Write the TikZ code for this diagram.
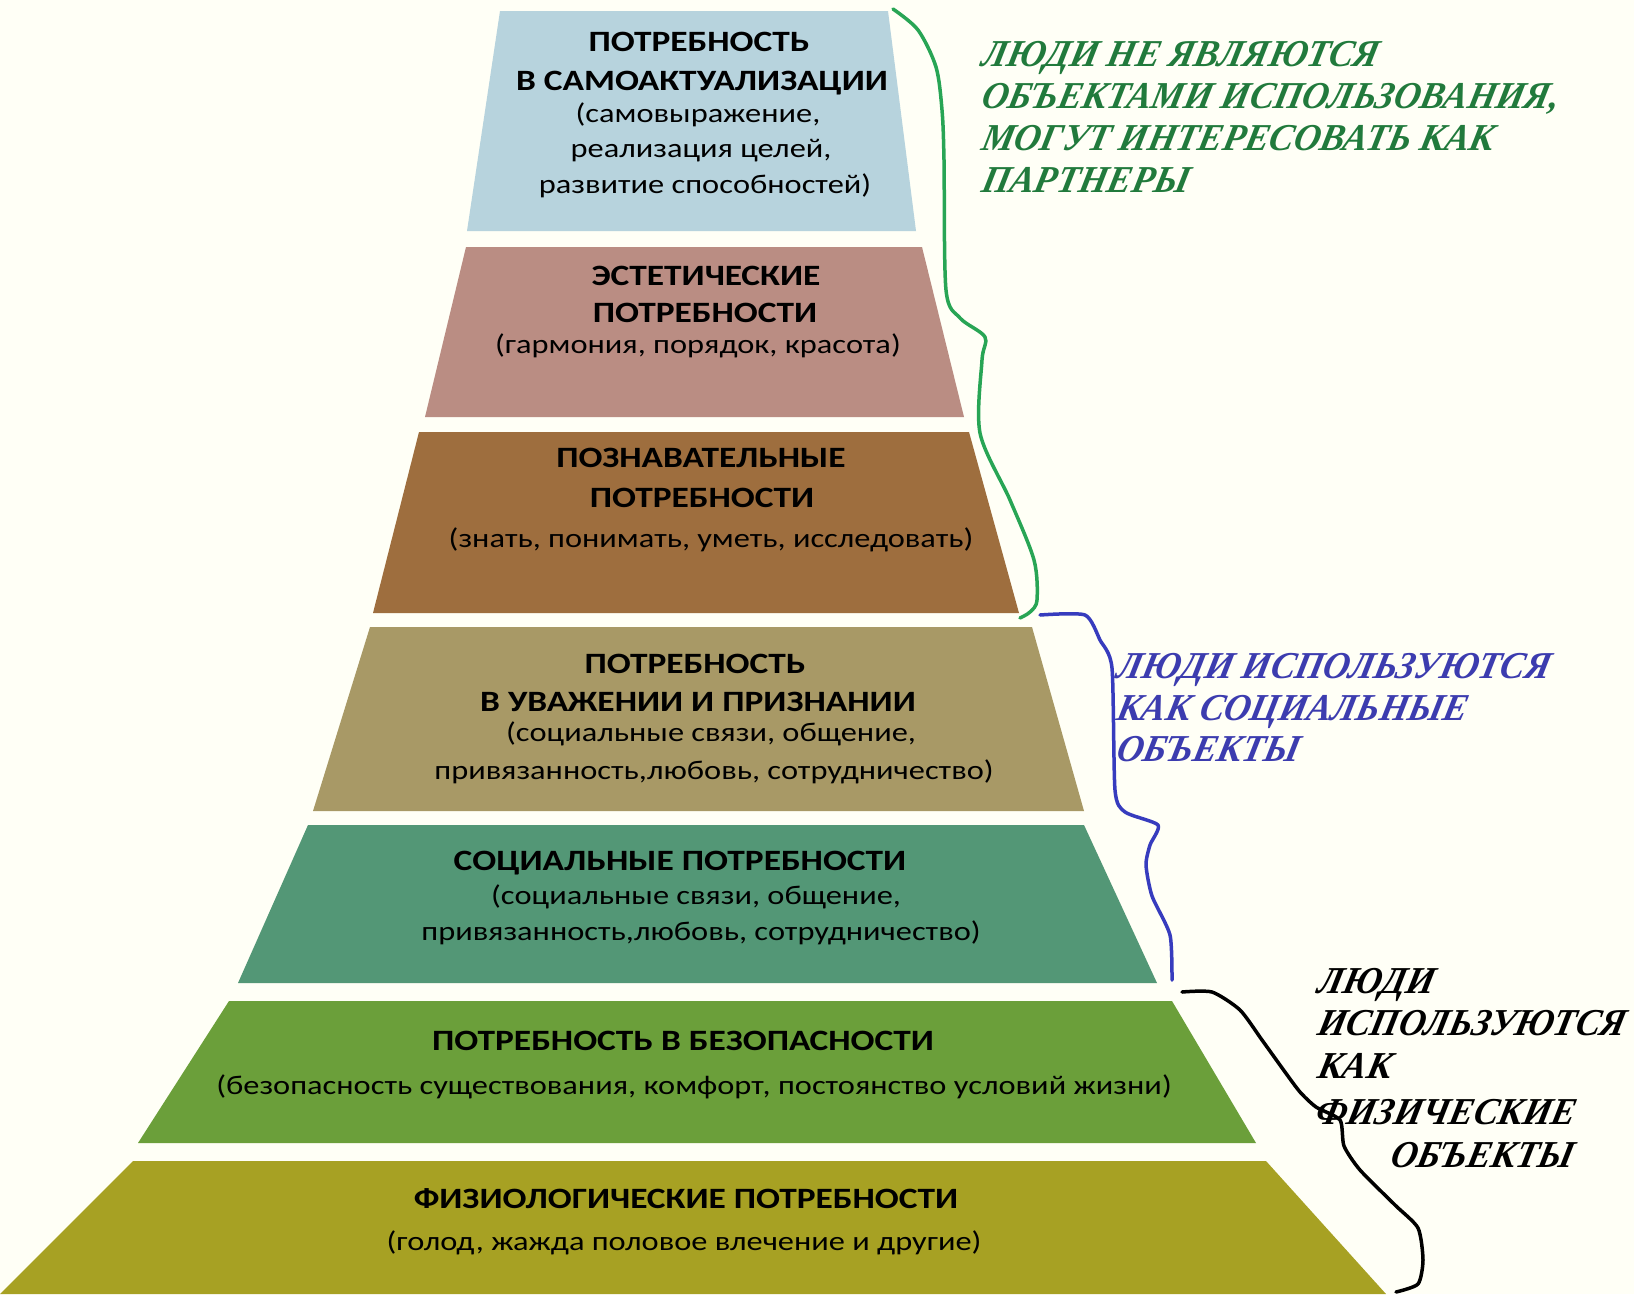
\documentclass[tikz,border=0pt]{standalone}
\usepackage{fontspec}
\setmainfont[FakeStretch=1.2]{Carlito}
\newfontfamily\serifbi[FakeSlant=0.22,FakeStretch=0.96]{Liberation Serif Bold Italic}
\definecolor{bgc}{RGB}{255,255,246}
\definecolor{c1}{RGB}{183,211,221}
\definecolor{c2}{RGB}{186,141,131}
\definecolor{c3}{RGB}{158,110,62}
\definecolor{c4}{RGB}{168,153,102}
\definecolor{c5}{RGB}{83,151,118}
\definecolor{c6}{RGB}{107,159,58}
\definecolor{c7}{RGB}{167,161,35}
\definecolor{gtxt}{RGB}{33,122,60}
\definecolor{glin}{RGB}{40,165,85}
\definecolor{btxt}{RGB}{60,60,175}
\definecolor{blin}{RGB}{55,60,190}
\begin{document}
\begin{tikzpicture}[x=1pt,y=-1pt,
  ttl/.style={anchor=base, inner sep=0pt, font=\bfseries\fontsize{29.5}{30}\selectfont},
  sub/.style={anchor=base, inner sep=0pt, font=\fontsize{27}{28}\selectfont},
  side/.style={anchor=base west, inner sep=0pt, font=\serifbi\fontsize{38}{38}\selectfont},
  brace/.style={line width=3.5pt, line join=round, line cap=round}]
\useasboundingbox (0,0) rectangle (1634,1294);
\fill[bgc] (0,0) rectangle (1634,1294);
\clip (0,0) rectangle (1634,1294);
% tiers
\fill[c1] (500,11) -- (888,11) -- (916,231) -- (467,231) -- cycle;
\fill[c2] (466,247) -- (922,247) -- (964,417) -- (425,417) -- cycle;
\fill[c3] (419,432) -- (969,432) -- (1019,613) -- (373,613) -- cycle;
\fill[c4] (370,627) -- (1032,627) -- (1084,811) -- (313,811) -- cycle;
\fill[c5] (308,825) -- (1084,825) -- (1157,983) -- (238,983) -- cycle;
\fill[c6] (229,1001) -- (1172,1001) -- (1256,1143) -- (138,1143) -- cycle;
\fill[c7] (133,1161) -- (1266,1161) -- (1386,1294) -- (0,1294) -- cycle;
% tier texts
\node[ttl] (t1a) at (699,51) {ПОТРЕБНОСТЬ};
\node[ttl] (t1b) at (702,90) {В САМОАКТУАЛИЗАЦИИ};
\node[sub] (t1c) at (698,122) {(самовыражение,};
\node[sub] (t1d) at (701,157) {реализация целей,};
\node[sub] (t1e) at (705,193) {развитие способностей)};
\node[ttl] (t2a) at (706,285) {ЭСТЕТИЧЕСКИЕ};
\node[ttl] (t2b) at (705,322) {ПОТРЕБНОСТИ};
\node[sub] (t2c) at (698,353) {(гармония, порядок, красота)};
\node[ttl] (t3a) at (701,467) {ПОЗНАВАТЕЛЬНЫЕ};
\node[ttl] (t3b) at (702,507) {ПОТРЕБНОСТИ};
\node[sub] (t3c) at (711,547) {(знать, понимать, уметь, исследовать)};
\node[ttl] (t4a) at (695,673) {ПОТРЕБНОСТЬ};
\node[ttl] (t4b) at (698,711) {В УВАЖЕНИИ И ПРИЗНАНИИ};
\node[sub] (t4c) at (711,741) {(социальные связи, общение,};
\node[sub] (t4d) at (714,779) {привязанность,любовь, сотрудничество)};
\node[ttl] (t5a) at (680,870) {СОЦИАЛЬНЫЕ ПОТРЕБНОСТИ};
\node[sub] (t5b) at (696,904) {(социальные связи, общение,};
\node[sub] (t5c) at (701,940) {привязанность,любовь, сотрудничество)};
\node[ttl] (t6a) at (683,1050) {ПОТРЕБНОСТЬ В БЕЗОПАСНОСТИ};
\node[sub] (t6b) at (694,1094) {(безопасность существования, комфорт, постоянство условий жизни)};
\node[ttl] (t7a) at (686,1208) {ФИЗИОЛОГИЧЕСКИЕ ПОТРЕБНОСТИ};
\node[sub] (t7b) at (684,1250) {(голод, жажда половое влечение и другие)};
% braces
\draw[brace, glin] plot[smooth, tension=0.5] coordinates {(893,9) (918,30) (936,67) (942,110) (944,160) (946,290) (960,318) (985,337) (982,360) (980,433) (1010,500) (1034,560) (1037,600) (1030,612) (1020,618)};
\draw[brace, blin] plot[smooth, tension=0.4] coordinates {(1040,615) (1085,615) (1100,640) (1112,668) (1115,790) (1125,812) (1158,825) (1150,845) (1146,865) (1152,896) (1170,935) (1172,980)};
\draw[brace, black] plot[smooth, tension=0.4] coordinates {(1182,992) (1212,992) (1240,1010) (1262,1040) (1285,1072) (1300,1092) (1316,1107) (1340,1120) (1344,1146) (1360,1170) (1395,1205) (1418,1228) (1423,1260) (1418,1284) (1396,1292)};
% side texts
\node[side, gtxt] (g1) at (980,66) {ЛЮДИ НЕ ЯВЛЯЮТСЯ};
\node[side, gtxt] (g2) at (980,108) {ОБЪЕКТАМИ ИСПОЛЬЗОВАНИЯ,};
\node[side, gtxt] (g3) at (980,150) {МОГУТ ИНТЕРЕСОВАТЬ КАК};
\node[side, gtxt] (g4) at (980,192) {ПАРТНЕРЫ};
\node[side, btxt] (b1) at (1115,678) {ЛЮДИ ИСПОЛЬЗУЮТСЯ};
\node[side, btxt] (b2) at (1115,720) {КАК СОЦИАЛЬНЫЕ};
\node[side, btxt] (b3) at (1115,761) {ОБЪЕКТЫ};
\node[side] (k1) at (1316,993) {ЛЮДИ};
\node[side] (k2) at (1316,1035) {ИСПОЛЬЗУЮТСЯ};
\node[side] (k3) at (1316,1078) {КАК};
\node[side] (k4) at (1314,1124) {ФИЗИЧЕСКИЕ};
\node[side] (k5) at (1389,1167) {ОБЪЕКТЫ};
\end{tikzpicture}
\end{document}
